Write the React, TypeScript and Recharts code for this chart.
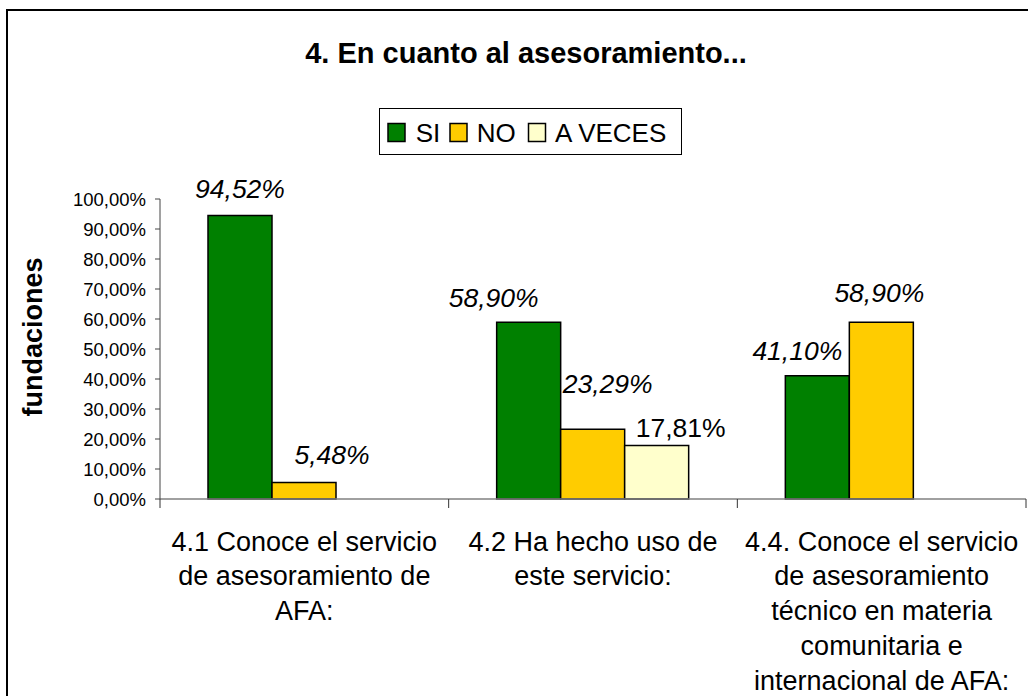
import React from 'react';
import { BarChart, Bar, XAxis, YAxis, LabelList, Rectangle } from 'recharts';

const categories = [
  '4.1 Conoce el servicio de asesoramiento de AFA:',
  '4.2 Ha hecho uso de este servicio:',
  '4.4. Conoce el servicio de asesoramiento técnico en materia comunitaria e internacional de AFA:',
];
// tick labels, already broken into lines as in the original
const categoryLines = [
  ['4.1 Conoce el servicio', 'de asesoramiento de', 'AFA:'],
  ['4.2 Ha hecho uso de', 'este servicio:'],
  ['4.4. Conoce el servicio', 'de asesoramiento', 'técnico en materia', 'comunitaria e', 'internacional de AFA:'],
];
const si = [94.52, 58.9, 41.1];
const no = [5.48, 23.29, 58.9];
const aVeces = [null, 17.81, null];
const yTicks = [0, 10, 20, 30, 40, 50, 60, 70, 80, 90, 100];

const data = categories.map((name, i) => ({
  name,
  si: si[i],
  no: no[i],
  aVeces: aVeces[i],
}));

// label nudges [dx, baseline above bar top], like the hand-moved Excel labels
// (LabelList skips empty entries, so aVeces only has its one visible label)
const labelNudge: Record<string, number[][]> = {
  si: [[0, -17], [-35, -15], [-20, -16]],
  no: [[28, -19], [15, -36], [-2, -20]],
  aVeces: [[24, -8.5], [24, -8.5], [24, -8.5]],
};

const FONT = '"Liberation Sans", Arial, sans-serif';
const GREEN = '#008000';
const YELLOW = '#FFCC00';
const PALE = '#FFFFCC';

const fmt = (v: number) => v.toFixed(2).replace('.', ',') + '%';

const BarShape = (props: any) => {
  const { value, height } = props;
  if (value == null || !height) return null;
  return <Rectangle {...props} />;
};

const makeLabel = (key: string, italic: boolean) => (props: any) => {
  const { x, y, width, value, index } = props;
  if (value == null) return null;
  const [dx, dy] = labelNudge[key][index] || [0, -10];
  return (
    <text
      x={Number(x) + Number(width) / 2 + dx}
      y={Number(y) + dy}
      textAnchor="middle"
      fontFamily={FONT}
      fontSize={26.5}
      fontStyle={italic ? 'italic' : 'normal'}
      fill="#000"
    >
      {fmt(Number(value))}
    </text>
  );
};

const CategoryTick = (props: any) => {
  const { x, y, payload, index } = props;
  const half = payload && payload.offset ? payload.offset : 866 / 6;
  const lines = categoryLines[index] || [String(payload.value)];
  return (
    <g>
      <line x1={x - half} y1={y} x2={x - half} y2={y + 9} stroke="#333" strokeWidth={1} />
      {index === categories.length - 1 && (
        <line x1={x + half} y1={y} x2={x + half} y2={y + 9} stroke="#333" strokeWidth={1} />
      )}
      <text x={x} y={y} textAnchor="middle" fontFamily={FONT} fontSize={27} fill="#000">
        {lines.map((l, i) => (
          <tspan key={i} x={x} y={y + 51.5 + i * 34.8}>
            {l}
          </tspan>
        ))}
      </text>
    </g>
  );
};

const Overlay = () => (
  <svg
    width={1028}
    height={696}
    style={{ position: 'absolute', left: 0, top: 0, pointerEvents: 'none' }}
  >
    <text x={526} y={63} textAnchor="middle" fontFamily={FONT} fontSize={29} fontWeight="bold">
      4. En cuanto al asesoramiento...
    </text>
    <text
      transform="translate(41.7, 337) rotate(-90)"
      textAnchor="middle"
      fontFamily={FONT}
      fontSize={27}
      fontWeight="bold"
    >
      fundaciones
    </text>
    {/* legend */}
    <rect x={379.5} y={108.5} width={302} height={46} fill="#fff" stroke="#000" strokeWidth={1} />
    <rect x={388} y={123.5} width={17} height={18} fill={GREEN} stroke="#000" strokeWidth={1.5} />
    <text x={415.7} y={141.7} fontFamily={FONT} fontSize={26}>SI</text>
    <rect x={450} y={123.5} width={17} height={18} fill={YELLOW} stroke="#000" strokeWidth={1.5} />
    <text x={476.7} y={141.7} fontFamily={FONT} fontSize={26}>NO</text>
    <rect x={528.5} y={123.5} width={17} height={18} fill={PALE} stroke="#000" strokeWidth={1.5} />
    <text x={555} y={141.7} fontFamily={FONT} fontSize={26}>A VECES</text>
  </svg>
);

export default function App() {
  return (
    <div
      style={{
        position: 'absolute',
        left: 0,
        top: 0,
        width: 1028,
        height: 696,
        overflow: 'hidden',
        background: '#fff',
        fontFamily: FONT,
      }}
    >
      <div
        style={{
          position: 'absolute',
          left: 6,
          top: 9,
          width: 1100,
          height: 800,
          border: '2px solid #000',
        }}
      />
      <BarChart
        width={1028}
        height={696}
        data={data}
        margin={{ top: 199, right: 2, left: 0, bottom: 0 }}
        barSize={64}
        barGap={0}
        style={{ position: 'absolute', left: 0, top: 0 }}
      >
        <XAxis
          dataKey="name"
          height={197}
          interval={0}
          tickLine={false}
          tickSize={0}
          tickMargin={0}
          axisLine={{ stroke: '#808080', strokeWidth: 1.5 }}
          tick={<CategoryTick />}
        />
        <YAxis
          width={160}
          domain={[0, 100]}
          ticks={yTicks}
          interval={0}
          tickFormatter={fmt}
          tickSize={5}
          tickMargin={9}
          axisLine={{ stroke: '#444', strokeWidth: 1 }}
          tickLine={{ stroke: '#444' }}
          tick={{ fill: '#000', fontFamily: FONT, fontSize: 18.5 }}
        />
        <Bar dataKey="si" fill={GREEN} stroke="#000" strokeWidth={1.5} shape={BarShape} isAnimationActive={false}>
          <LabelList dataKey="si" content={makeLabel('si', true)} />
        </Bar>
        <Bar dataKey="no" fill={YELLOW} stroke="#000" strokeWidth={1.5} shape={BarShape} isAnimationActive={false}>
          <LabelList dataKey="no" content={makeLabel('no', true)} />
        </Bar>
        <Bar dataKey="aVeces" fill={PALE} stroke="#000" strokeWidth={1.5} shape={BarShape} isAnimationActive={false}>
          <LabelList dataKey="aVeces" content={makeLabel('aVeces', false)} />
        </Bar>
      </BarChart>
      <Overlay />
    </div>
  );
}
